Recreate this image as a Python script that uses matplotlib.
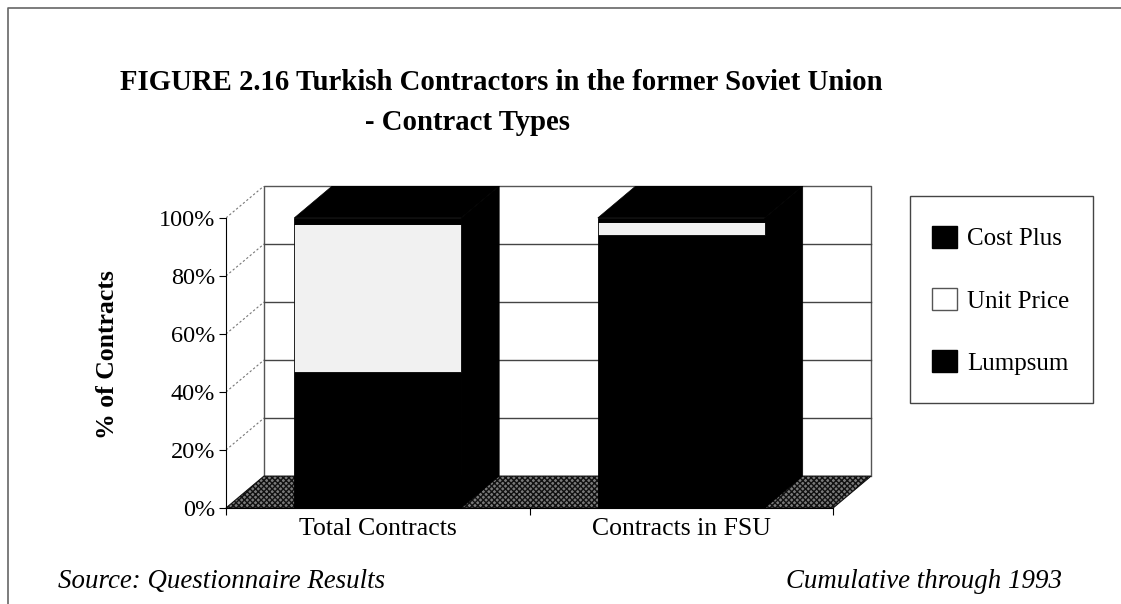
import matplotlib
matplotlib.use("Agg")
import matplotlib.pyplot as plt
from matplotlib.patches import Polygon, Rectangle, Patch
from matplotlib.lines import Line2D

plt.rcParams['font.family'] = ['Liberation Serif', 'DejaVu Serif']
plt.rcParams['hatch.linewidth'] = 1.0

# contract mix per category, in percent (bottom to top of the stack)
categories = ["Total Contracts", "Contracts in FSU"]
lumpsum = [47, 94]
unit_price = [51, 4.5]
cost_plus = [2, 1.5]
yticks = [0, 20, 40, 60, 80, 100]

# fake 3d depth offset (x in category units, y in percent)
dx = 0.125
dy = 11.0
bar_w = 0.55

fig = plt.figure(figsize=(11.21, 6.04), dpi=100)
ax = fig.add_axes([226/1121, 1 - 508/604, 645/1121, 322/604])
ax.set_xlim(0, 2 + dx)
ax.set_ylim(0, 100 + dy)

# back wall with gridlines
ax.plot([dx, dx, 2 + dx, 2 + dx], [dy, 100 + dy, 100 + dy, dy], color='#555', lw=1.0,
        zorder=1, clip_on=False)
for v in yticks[1:-1]:
    ax.plot([dx, 2 + dx], [v + dy, v + dy], color='#444', lw=1.0, zorder=1, clip_on=False)
# side wall dotted lines
for v in yticks[1:]:
    ax.plot([0, dx], [v, v + dy], color='#777', lw=0.8, ls=(0, (2, 2)), zorder=1)

# floor
floor = Polygon([(0, 0), (2, 0), (2 + dx, dy), (dx, dy)], closed=True,
                facecolor='#7a7a7a', edgecolor='#111', hatch='xxxxxx', lw=0.8,
                zorder=2, clip_on=False)
ax.add_patch(floor)

colors = ['black', '#f1f1f1', 'black']
for i in range(len(categories)):
    x0 = i + 0.5 - bar_w / 2
    x1 = i + 0.5 + bar_w / 2
    segs = [lumpsum[i], unit_price[i], cost_plus[i]]
    total = sum(segs)
    # right side face
    ax.add_patch(Polygon([(x1, 0), (x1 + dx, dy), (x1 + dx, total + dy), (x1, total)],
                         closed=True, facecolor='black', edgecolor='black', lw=0.5, zorder=3))
    # top face
    ax.add_patch(Polygon([(x0, total), (x0 + dx, total + dy), (x1 + dx, total + dy), (x1, total)],
                         closed=True, facecolor='black', edgecolor='black', lw=0.5, zorder=3))
    bottom = 0
    for s, c in zip(segs, colors):
        ax.add_patch(Rectangle((x0, bottom), bar_w, s, facecolor=c,
                               edgecolor='black', lw=0.6, zorder=4))
        bottom += s

# front axes
for side in ['top', 'right']:
    ax.spines[side].set_visible(False)
ax.spines['left'].set_bounds(0, 100)
ax.spines['bottom'].set_bounds(0, 2)
ax.spines['left'].set_zorder(5)
ax.spines['bottom'].set_zorder(5)
ax.set_facecolor('none')
ax.set_yticks(yticks)
ax.set_yticklabels([f"{v}%" for v in yticks], fontsize=17.5)
ax.set_xticks([0, 1, 2])
ax.set_xticklabels([])
ax.set_xticks([0.5, 1.5], minor=True)
ax.set_xticklabels(categories, minor=True, fontsize=18.5)
ax.tick_params(axis='x', which='minor', length=0, pad=7)
ax.tick_params(axis='both', which='major', length=5, direction='out')
ax.tick_params(axis='y', pad=3)

fig.text(107/1121, 1 - 355/604, "% of Contracts", fontsize=18.5, fontweight='bold',
         rotation=90, ha='center', va='center')

# legend box drawn separately so its size can be fixed
fig.add_artist(Rectangle((910/1121, 1 - 403/604), 183/1121, 207/604,
                         transform=fig.transFigure, facecolor='white',
                         edgecolor='#444', lw=1.0, zorder=0))
handles = [Patch(facecolor='black', edgecolor='black'),
           Patch(facecolor='white', edgecolor='#555'),
           Patch(facecolor='black', edgecolor='black')]
fig.legend(handles, ["Cost Plus", "Unit Price", "Lumpsum"], loc='upper left',
           bbox_to_anchor=(932/1121, 1 - 225.5/604), fontsize=18, frameon=False,
           handlelength=1.0, handleheight=1.0, handletextpad=0.4,
           labelspacing=1.5, borderpad=0, borderaxespad=0)

# titles and notes
fig.text(120/1121, 1 - 82/604, "FIGURE 2.16 Turkish Contractors in the former Soviet Union",
         fontsize=20.7, fontweight='bold', va='center', ha='left')
fig.text(365/1121, 1 - 122/604, "- Contract Types",
         fontsize=20.7, fontweight='bold', va='center', ha='left')
fig.text(58/1121, 1 - 581/604, "Source: Questionnaire Results",
         fontsize=19.4, style='italic', va='center', ha='left')
fig.text(1062/1121, 1 - 581/604, "Cumulative through 1993",
         fontsize=19.4, style='italic', va='center', ha='right')

# page frame (top and left edges)
fig.add_artist(Line2D([8/1121, 8/1121, 1], [0, 1 - 8/604, 1 - 8/604],
                      transform=fig.transFigure, color='#666', lw=1.2))

fig.savefig("out.png", dpi=100)
